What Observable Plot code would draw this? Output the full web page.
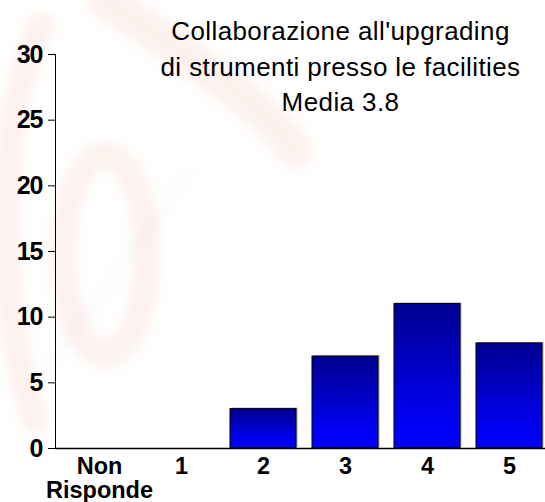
<!DOCTYPE html>
<html><head><meta charset="utf-8">
<script src="https://cdn.jsdelivr.net/npm/d3@7"></script>
<script src="https://cdn.jsdelivr.net/npm/@observablehq/plot@0.6"></script>
<style>
html,body{margin:0;padding:0;background:#fff;overflow:hidden;}
#wrap{position:relative;width:545px;height:502px;overflow:hidden;}
#bg,#chart{position:absolute;left:0;top:0;}
</style></head><body>
<div id="wrap">
<svg id="bg" width="545" height="502">
  <defs><filter id="blur"><feGaussianBlur stdDeviation="6"/></filter></defs>
  <g filter="url(#blur)" fill="none" stroke="#f08a70" stroke-opacity="0.12" stroke-linecap="round">
    <path d="M 42 25 C 0 100, -8 300, 35 420" stroke-width="26"/>
    <ellipse cx="105" cy="255" rx="42" ry="100" stroke-width="26"/>
    <path d="M 105 0 C 160 40, 250 90, 295 150" stroke-width="36"/>
  </g>
  <g filter="url(#blur)" stroke="#9aa0d8" stroke-opacity="0.15" stroke-width="3">
    <path d="M 40 380 L 190 170"/>
  </g>
</svg>
<div id="chart"></div>
</div>
<script>
const categories = ["Non Risponde", "1", "2", "3", "4", "5"];
const labels = ["Non\nRisponde", "1", "2", "3", "4", "5"];
const values = [0, 0, 3, 7, 11, 8];
const yTicks = [0, 5, 10, 15, 20, 25, 30];
const titleLines = ["Collaborazione all'upgrading", "di strumenti presso le facilities", "Media 3.8"];

const data = categories.map((c, i) => ({category: c, label: labels[i], value: values[i]}));

const plot = Plot.plot({
  width: 545,
  height: 502,
  marginLeft: 55, marginRight: 0, marginTop: 54, marginBottom: 54,
  style: {fontFamily: "'Liberation Sans', Arial, sans-serif", fontSize: "25px", fontWeight: "bold", background: "transparent", overflow: "hidden", color: "#000"},
  x: {domain: categories, range: [55, 553], paddingInner: 0.2, paddingOuter: 0.107, axis: null},
  y: {domain: [0, 30], ticks: yTicks, tickSize: 7, tickPadding: 6, line: true, label: null, tickFormat: d => String(d)},
  marks: [
    Plot.barY(data.filter(d => d.value > 0), {x: "category", y: "value", fill: "#a8a8a8", dx: 1.5, dy: -1}),
    Plot.barY(data, {x: "category", y: "value", fill: "url(#barGrad)", stroke: "#000", strokeWidth: 1}),
    Plot.ruleY([0], {stroke: "#000", strokeWidth: 1.3}),
    Plot.text(data, {x: "category", text: "label", frameAnchor: "bottom", lineAnchor: "top", dy: 9, lineHeight: 1, fontSize: 23.5, fontWeight: "bold"}),
    Plot.text([titleLines.join("\n")], {frameAnchor: "top", lineAnchor: "top", dx: 40, dy: -39, lineHeight: 1.35, fontSize: 26, fontWeight: "normal"})
  ]
});

const ns = "http://www.w3.org/2000/svg";
const defs = document.createElementNS(ns, "defs");
defs.innerHTML = '<linearGradient id="barGrad" x1="0" y1="0" x2="0" y2="1">' +
  '<stop offset="0" stop-color="#000090"/><stop offset="0.8" stop-color="#0000f2"/><stop offset="1" stop-color="#0000ff"/></linearGradient>';
plot.insertBefore(defs, plot.firstChild);
const textGroups = plot.querySelectorAll('g[aria-label="text"]');
const titleG = textGroups[textGroups.length - 1];
if (titleG) titleG.style.letterSpacing = "0.4px";
plot.querySelectorAll('g[aria-label^="y-axis"] text').forEach(t => t.style.letterSpacing = "-1px");
document.getElementById("chart").appendChild(plot);
</script>
</body></html>
